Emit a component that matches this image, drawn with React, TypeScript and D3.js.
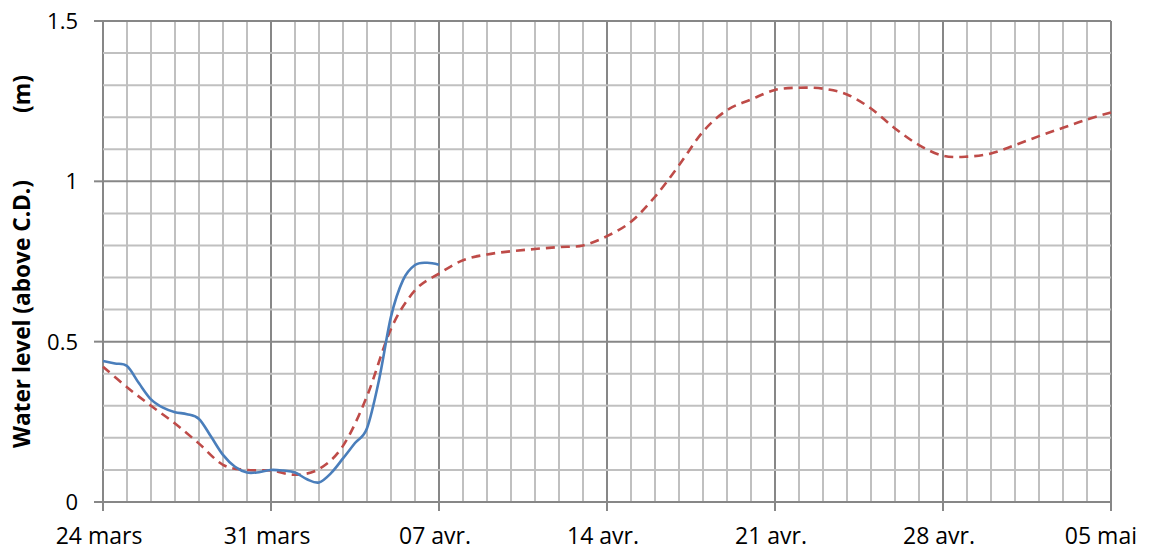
import React, { useEffect, useRef } from 'react';
import * as d3 from 'd3';

// observed water level, every 12 h from 24 mars
const observed = [
  0.44, 0.432, 0.424, 0.37, 0.32, 0.294, 0.28, 0.274, 0.259, 0.204,
  0.147, 0.11, 0.092, 0.093, 0.1, 0.098, 0.092, 0.071, 0.061, 0.09,
  0.136, 0.184, 0.23, 0.38, 0.578, 0.692, 0.739, 0.746, 0.74,
];

// forecast, daily from 24 mars to 05 mai
const forecast = [
  0.422, 0.358, 0.3, 0.245, 0.182, 0.116, 0.1, 0.098, 0.085, 0.103,
  0.175, 0.33, 0.54, 0.66, 0.712, 0.754, 0.772, 0.782, 0.789, 0.795,
  0.8, 0.829, 0.874, 0.952, 1.05, 1.155, 1.222, 1.255, 1.285, 1.292,
  1.289, 1.271, 1.227, 1.165, 1.113, 1.08, 1.077, 1.087, 1.113, 1.141,
  1.167, 1.193, 1.215,
];

const xTickLabels = ['24 mars', '31 mars', '07 avr.', '14 avr.', '21 avr.', '28 avr.', '05 mai'];
const yTickLabels = ['0', '0.5', '1', '1.5'];

const start = new Date(2014, 2, 24);
const end = d3.timeDay.offset(start, 42);

const App: React.FC = () => {
  const svgRef = useRef<SVGSVGElement>(null);

  useEffect(() => {
    if (!svgRef.current) return;
    const svg = d3.select(svgRef.current);
    svg.selectAll('*').remove();

    const x = d3.scaleTime().domain([start, end]).range([103, 1111]);
    const y = d3.scaleLinear().domain([0, 1.5]).range([502, 21]);

    const font = "'Open Sans', sans-serif";
    const minor = '#c0c0c0';
    const major = '#878787';

    // Grid
    const grid = svg.append('g');
    const days = d3.timeDay.range(start, d3.timeDay.offset(end, 1));
    grid.selectAll('.vg')
      .data(days)
      .enter()
      .append('line')
      .attr('x1', d => x(d))
      .attr('x2', d => x(d))
      .attr('y1', y(1.5))
      .attr('y2', y(0))
      .attr('stroke', (d, i) => i % 7 === 0 ? major : minor)
      .attr('stroke-width', 2);

    const levels = d3.range(0, 16).map(i => i / 10);
    grid.selectAll('.hg')
      .data(levels)
      .enter()
      .append('line')
      .attr('x1', x(start))
      .attr('x2', x(end))
      .attr('y1', d => y(d))
      .attr('y2', d => y(d))
      .attr('stroke', (d, i) => i % 5 === 0 ? major : minor)
      .attr('stroke-width', 2);

    // Axis ticks
    const weeks = d3.range(0, 7).map(i => d3.timeDay.offset(start, i * 7));
    grid.selectAll('.xt')
      .data(weeks)
      .enter()
      .append('line')
      .attr('x1', d => x(d))
      .attr('x2', d => x(d))
      .attr('y1', y(0))
      .attr('y2', y(0) + 9)
      .attr('stroke', major)
      .attr('stroke-width', 2);

    const majors = yTickLabels.map(Number);
    grid.selectAll('.yt')
      .data(majors)
      .enter()
      .append('line')
      .attr('x1', x(start) - 9)
      .attr('x2', x(start))
      .attr('y1', d => y(d))
      .attr('y2', d => y(d))
      .attr('stroke', major)
      .attr('stroke-width', 2);

    // Series
    const line = d3.line<[Date, number]>()
      .x(d => x(d[0]))
      .y(d => y(d[1]))
      .curve(d3.curveCardinal.tension(0));

    const fc: [Date, number][] = forecast.map((v, i) => [d3.timeDay.offset(start, i), v]);
    const ob: [Date, number][] = observed.map((v, i) => [d3.timeHour.offset(start, i * 12), v]);

    svg.append('path')
      .attr('d', line(fc))
      .attr('fill', 'none')
      .attr('stroke', '#be4b48')
      .attr('stroke-width', 2.6)
      .attr('stroke-dasharray', '9,6');

    svg.append('path')
      .attr('d', line(ob))
      .attr('fill', 'none')
      .attr('stroke', '#4a7ebb')
      .attr('stroke-width', 2.6);

    // Labels
    svg.selectAll('.xl')
      .data(weeks)
      .enter()
      .append('text')
      .attr('x', d => x(d) - 4)
      .attr('y', 544)
      .attr('text-anchor', 'middle')
      .style('font-family', font)
      .style('font-size', '23px')
      .attr('fill', '#000')
      .text((d, i) => xTickLabels[i])
      .each(function () {
        const t = this as SVGTextElement;
        const w = t.getComputedTextLength();
        const cx = +t.getAttribute('x')!;
        if (cx + w / 2 > 1137) t.setAttribute('x', String(1137 - w / 2));
      });

    svg.selectAll('.yl')
      .data(majors)
      .enter()
      .append('text')
      .attr('x', 78)
      .attr('y', d => y(d))
      .attr('dy', '0.36em')
      .attr('text-anchor', 'end')
      .style('font-family', font)
      .style('font-size', '22px')
      .attr('fill', '#000')
      .text((d, i) => yTickLabels[i]);

    svg.append('text')
      .attr('transform', 'translate(30,314) rotate(-90)')
      .attr('text-anchor', 'middle')
      .attr('textLength', 268)
      .attr('lengthAdjust', 'spacingAndGlyphs')
      .style('font-family', font)
      .style('font-size', '23px')
      .style('font-weight', 'bold')
      .text('Water level (above C.D.)');

    svg.append('text')
      .attr('transform', 'translate(30,94) rotate(-90)')
      .attr('text-anchor', 'middle')
      .style('font-family', font)
      .style('font-size', '23px')
      .style('font-weight', 'bold')
      .text('(m)');
  }, []);

  return (
    <svg
      ref={svgRef}
      width="1150"
      height="554"
      viewBox="0 0 1150 554"
      style={{ position: 'absolute', left: 0, top: 0, background: '#fff' }}
    ></svg>
  );
};

export default App;
